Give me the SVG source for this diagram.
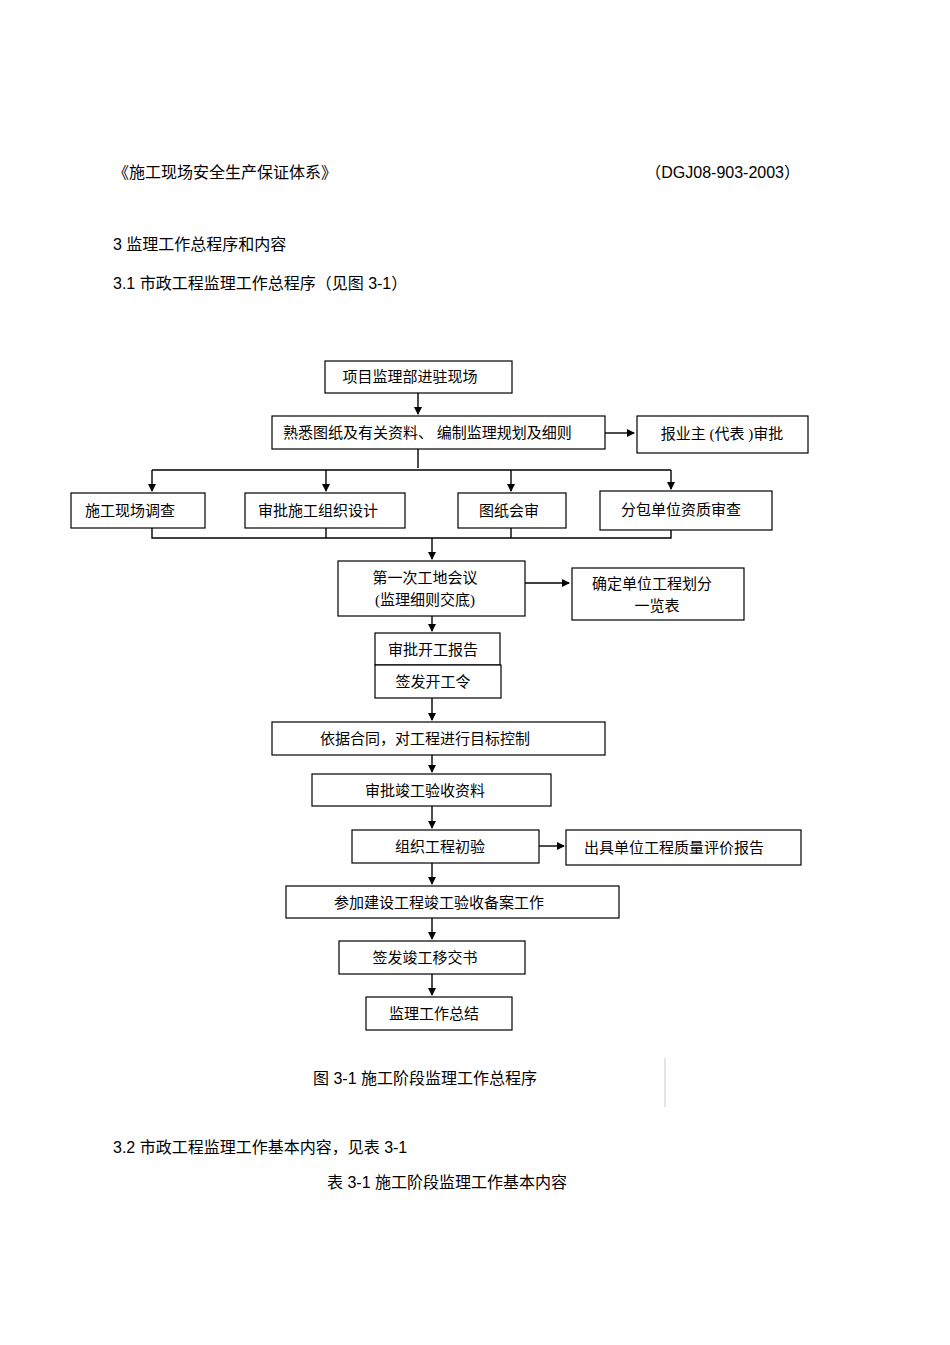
<svg xmlns="http://www.w3.org/2000/svg" width="950" height="1345" viewBox="0 0 950 1345">
<style>
.t{font-family:"Liberation Serif","Noto Sans CJK SC",serif;font-size:15px;fill:#000}
.h{font-family:"Liberation Sans","Noto Sans CJK SC",sans-serif;font-size:16px;fill:#000}
.b{fill:#fff;stroke:#000;stroke-width:1.2}
.c{stroke:#000;stroke-width:1.4;fill:none}
</style>
<defs><marker id="a" markerWidth="8" markerHeight="8" refX="7" refY="4" orient="auto" markerUnits="userSpaceOnUse"><path d="M0,0 L8,4 L0,8 Z" fill="#000"/></marker></defs>
<rect width="950" height="1345" fill="#fff"/>
<text class="h" x="113" y="178">《施工现场安全生产保证体系》</text>
<text class="h" x="800" y="178" text-anchor="end">（DGJ08-903-2003）</text>
<text class="h" x="113" y="250">3     监理工作总程序和内容</text>
<text class="h" x="113" y="289">3.1    市政工程监理工作总程序（见图     3-1）</text>
<g id="connectors">
<path class="c" d="M418,393 V414" marker-end="url(#a)"/>
<path class="c" d="M605,433 H634" marker-end="url(#a)"/>
<path class="c" d="M418,449 V468"/>
<path class="c" d="M152,470 H671"/>
<path class="c" d="M152,470 V491" marker-end="url(#a)"/>
<path class="c" d="M326,470 V491" marker-end="url(#a)"/>
<path class="c" d="M511,470 V491" marker-end="url(#a)"/>
<path class="c" d="M671,470 V489" marker-end="url(#a)"/>
<path class="c" d="M152,528 V538 H671 V530 M326,528 V538 M511,528 V538"/>
<path class="c" d="M432,538 V559" marker-end="url(#a)"/>
<path class="c" d="M525,583 H569" marker-end="url(#a)"/>
<path class="c" d="M432,616 V631" marker-end="url(#a)"/>
<path class="c" d="M432,698 V720" marker-end="url(#a)"/>
<path class="c" d="M432,755 V772" marker-end="url(#a)"/>
<path class="c" d="M432,806 V828" marker-end="url(#a)"/>
<path class="c" d="M539,846 H564" marker-end="url(#a)"/>
<path class="c" d="M432,863 V884" marker-end="url(#a)"/>
<path class="c" d="M432,918 V939" marker-end="url(#a)"/>
<path class="c" d="M432,974 V995" marker-end="url(#a)"/>
</g>
<g id="n1"><rect class="b" x="325" y="361" width="187" height="32"/><text class="t" x="410" y="382" text-anchor="middle">项目监理部进驻现场</text></g>
<g id="n2"><rect class="b" x="272" y="416" width="333" height="33"/><text class="t" x="283" y="438">熟悉图纸及有关资料、  编制监理规划及细则</text></g>
<g id="n3"><rect class="b" x="637" y="416" width="171" height="37"/><text class="t" x="722" y="439" text-anchor="middle">报业主 (代表 )审批</text></g>
<g id="n4"><rect class="b" x="71" y="493" width="134" height="35"/><text class="t" x="85" y="516">施工现场调查</text></g>
<g id="n5"><rect class="b" x="245" y="493" width="160" height="35"/><text class="t" x="258" y="516">审批施工组织设计</text></g>
<g id="n6"><rect class="b" x="458" y="493" width="108" height="35"/><text class="t" x="479" y="516">图纸会审</text></g>
<g id="n7"><rect class="b" x="600" y="491" width="172" height="39"/><text class="t" x="621" y="515">分包单位资质审查</text></g>
<g id="n8"><rect class="b" x="338" y="561" width="187" height="55"/><text class="t" x="425" y="583" text-anchor="middle">第一次工地会议</text><text class="t" x="425" y="605" text-anchor="middle">(监理细则交底)</text></g>
<g id="n9"><rect class="b" x="572" y="568" width="172" height="52"/><text class="t" x="652" y="589" text-anchor="middle">确定单位工程划分</text><text class="t" x="657" y="611" text-anchor="middle">一览表</text></g>
<g id="n10"><rect class="b" x="375" y="633" width="125" height="32"/><text class="t" x="433" y="655" text-anchor="middle">审批开工报告</text></g>
<g id="n11"><rect class="b" x="375" y="665" width="126" height="33"/><text class="t" x="433" y="687" text-anchor="middle">签发开工令</text></g>
<g id="n12"><rect class="b" x="272" y="722" width="333" height="33"/><text class="t" x="425" y="744" text-anchor="middle">依据合同，对工程进行目标控制</text></g>
<g id="n13"><rect class="b" x="312" y="774" width="239" height="32"/><text class="t" x="425" y="796" text-anchor="middle">审批竣工验收资料</text></g>
<g id="n14"><rect class="b" x="352" y="830" width="187" height="33"/><text class="t" x="440" y="852" text-anchor="middle">组织工程初验</text></g>
<g id="n15"><rect class="b" x="566" y="830" width="235" height="35"/><text class="t" x="674" y="853" text-anchor="middle">出具单位工程质量评价报告</text></g>
<g id="n16"><rect class="b" x="286" y="886" width="333" height="32"/><text class="t" x="439" y="908" text-anchor="middle">参加建设工程竣工验收备案工作</text></g>
<g id="n17"><rect class="b" x="339" y="941" width="186" height="33"/><text class="t" x="425" y="963" text-anchor="middle">签发竣工移交书</text></g>
<g id="n18"><rect class="b" x="366" y="997" width="146" height="33"/><text class="t" x="434" y="1019" text-anchor="middle">监理工作总结</text></g>
<text class="h" x="313" y="1084">图 3-1    施工阶段监理工作总程序</text>
<line x1="665" y1="1058" x2="665" y2="1107" stroke="#ccc" stroke-width="1"/>
<text class="h" x="113" y="1153">3.2    市政工程监理工作基本内容，见表      3-1</text>
<text class="h" x="327" y="1188">表 3-1    施工阶段监理工作基本内容</text>
</svg>
